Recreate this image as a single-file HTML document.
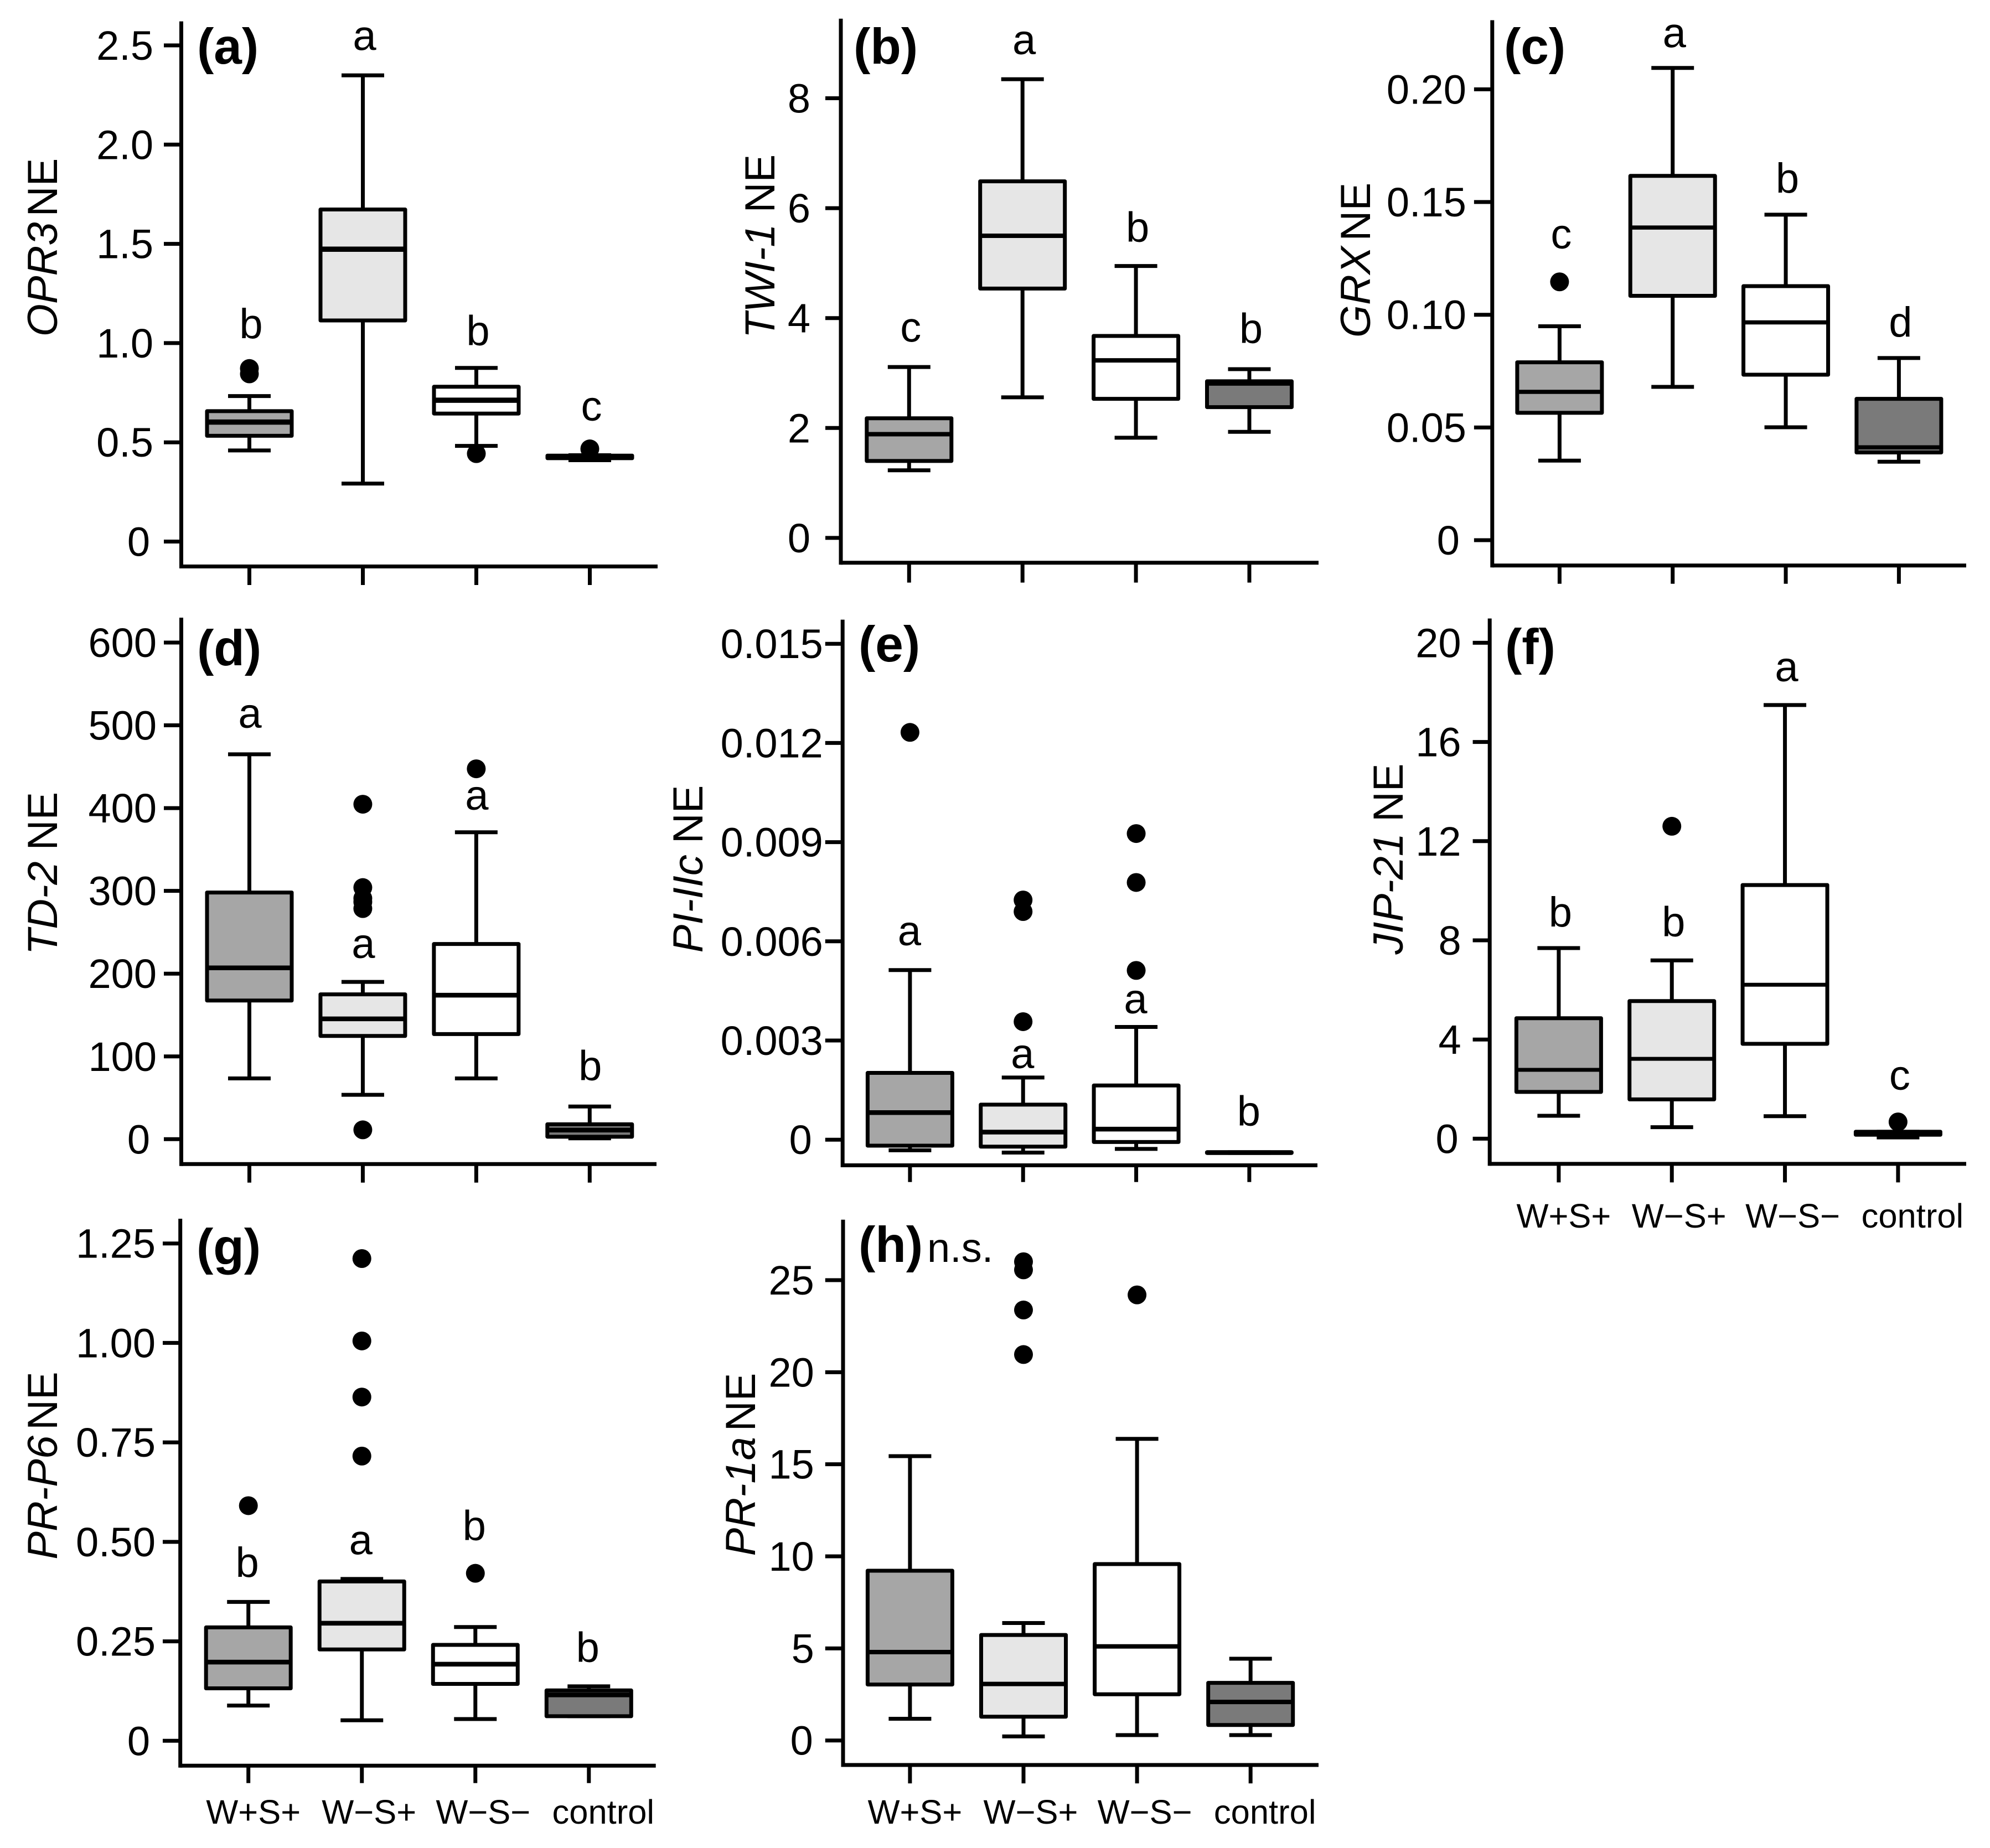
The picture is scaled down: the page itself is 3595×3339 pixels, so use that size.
<!DOCTYPE html>
<html lang="en">
<head>
<meta charset="utf-8">
<title>Normalized expression box plots</title>
<style>
  html, body { margin: 0; padding: 0; background: #fff; }
  svg { display: block; font-family: "Liberation Sans", sans-serif; fill: #000; }
  .panel-label { font-weight: bold; font-size: 91px; }
  .y-title { font-size: 76px; }
  .y-title .gene { font-style: italic; }
</style>
</head>
<body>
<svg id="chart" xmlns="http://www.w3.org/2000/svg" width="3595" height="3339" viewBox="0 0 3595 3339">
  <rect x="0" y="0" width="3595" height="3339" fill="#ffffff"/>

  <g id="panel-a">
    <text class="panel-label" x="356" y="115">(a)</text>
    <text class="y-title" text-anchor="middle" transform="translate(103 447) rotate(-90)"><tspan class="gene">OPR3</tspan><tspan dx="10">NE</tspan></text>
  </g>
  <g id="panel-b">
    <text class="panel-label" x="1542" y="115">(b)</text>
    <text class="y-title" text-anchor="middle" transform="translate(1399 445) rotate(-90)"><tspan class="gene">TWI-1</tspan><tspan dx="20">NE</tspan></text>
  </g>
  <g id="panel-c">
    <text class="panel-label" x="2717" y="115">(c)</text>
    <text class="y-title" text-anchor="middle" transform="translate(2475 470) rotate(-90)"><tspan class="gene">GRX</tspan><tspan dx="10">NE</tspan></text>
  </g>
  <g id="panel-d">
    <text class="panel-label" x="356" y="1202">(d)</text>
    <text class="y-title" text-anchor="middle" transform="translate(103 1578) rotate(-90)"><tspan class="gene">TD-2</tspan><tspan dx="20">NE</tspan></text>
  </g>
  <g id="panel-e">
    <text class="panel-label" x="1551" y="1195">(e)</text>
    <text class="y-title" text-anchor="middle" transform="translate(1269 1570) rotate(-90)"><tspan class="gene">PI-IIc</tspan><tspan dx="20">NE</tspan></text>
  </g>
  <g id="panel-f">
    <text class="panel-label" x="2719" y="1200">(f)</text>
    <text class="y-title" text-anchor="middle" transform="translate(2534 1552) rotate(-90)"><tspan class="gene">JIP-21</tspan><tspan dx="20">NE</tspan></text>
  </g>
  <g id="panel-g">
    <text class="panel-label" x="355" y="2284">(g)</text>
    <text class="y-title" text-anchor="middle" transform="translate(103 2648) rotate(-90)"><tspan class="gene">PR-P6</tspan><tspan dx="10">NE</tspan></text>
  </g>
  <g id="panel-h">
    <text class="panel-label" x="1551" y="2280">(h)</text>
    <text x="1675" y="2280" font-size="74">n.s.</text>
    <text class="y-title" text-anchor="middle" transform="translate(1364 2646) rotate(-90)"><tspan class="gene">PR-1a</tspan><tspan dx="10">NE</tspan></text>
  </g>
</svg>

<script>
// ---- Shared categories ----
const categories = ['W+S+', 'W\u2212S+', 'W\u2212S\u2212', 'control'];
const boxFills = ['#a6a6a6', '#e6e6e6', '#ffffff', '#7a7a7a'];

// ---- Panel (a) OPR3 ----
const aTicks = [0, 0.5, 1.0, 1.5, 2.0, 2.5];
const aTickLabels = ['0', '0.5', '1.0', '1.5', '2.0', '2.5'];
const aLow = [0.459, 0.292, 0.482, 0.41];
const aQ1 = [0.533, 1.114, 0.645, 0.42];
const aMedian = [0.602, 1.473, 0.712, 0.428];
const aQ3 = [0.657, 1.673, 0.78, 0.433];
const aHigh = [0.733, 2.349, 0.875, 0.435];
const aOutliers = [[0.845, 0.872], [], [0.443], [0.467]];
const aLetters = ['b', 'a', 'b', 'c'];
const aLetterLevels = [1.025, 2.476, 0.99, 0.61];

// ---- Panel (b) TWI-1 ----
const bTicks = [0, 2, 4, 6, 8];
const bTickLabels = ['0', '2', '4', '6', '8'];
const bLow = [1.23, 2.558, 1.823, 1.93];
const bQ1 = [1.40, 4.537, 2.53, 2.38];
const bMedian = [1.887, 5.498, 3.23, 2.81];
const bQ3 = [2.177, 6.488, 3.675, 2.85];
const bHigh = [3.11, 8.346, 4.947, 3.07];
const bOutliers = [[], [], [], []];
const bLetters = ['c', 'a', 'b', 'b'];
const bLetterLevels = [3.57, 8.8, 5.39, 3.55];

// ---- Panel (c) GRX ----
const cTicks = [0, 0.05, 0.10, 0.15, 0.20];
const cTickLabels = ['0', '0.05', '0.10', '0.15', '0.20'];
const cLow = [0.0353, 0.068, 0.0501, 0.0348];
const cQ1 = [0.0565, 0.1084, 0.0734, 0.0389];
const cMedian = [0.0658, 0.1387, 0.0966, 0.0412];
const cQ3 = [0.0789, 0.1616, 0.1127, 0.0627];
const cHigh = [0.0949, 0.2095, 0.1444, 0.0808];
const cOutliers = [[0.1146], [], [], []];
const cLetters = ['c', 'a', 'b', 'd'];
const cLetterLevels = [0.1294, 0.2186, 0.1542, 0.0904];

// ---- Panel (d) TD-2 ----
const dTicks = [0, 100, 200, 300, 400, 500, 600];
const dTickLabels = ['0', '100', '200', '300', '400', '500', '600'];
const dLow = [73.4, 53.6, 73.4, 1];
const dQ1 = [167.5, 124.7, 127, 3];
const dMedian = [207, 145.4, 174, 11];
const dQ3 = [298, 175, 235.8, 18];
const dHigh = [465, 190, 370.8, 39.5];
const dOutliers = [[], [404.7, 304, 291, 286.6, 278.6, 11.3], [447.5], []];
const dLetters = ['a', 'a', 'a', 'b'];
const dLetterLevels = [497, 219, 398, 71.5];

// ---- Panel (e) PI-IIc ----
const eTicks = [0, 0.003, 0.006, 0.009, 0.012, 0.015];
const eTickLabels = ['0', '0.003', '0.006', '0.009', '0.012', '0.015'];
const eLow = [-0.00032, -0.00039, -0.00028, -0.0004];
const eQ1 = [-0.00018, -0.00021, -0.00007, -0.0004];
const eMedian = [0.00082, 0.00023, 0.00032, -0.00039];
const eQ3 = [0.00202, 0.00106, 0.00164, -0.00038];
const eHigh = [0.00513, 0.00188, 0.00341, -0.00038];
const eOutliers = [[0.01232], [0.00357, 0.0069, 0.00725], [0.00512, 0.00778, 0.00926], []];
const eLetters = ['a', 'a', 'a', 'b'];
const eLetterLevels = [0.00588, 0.00216, 0.00382, 0.00043];

// ---- Panel (f) JIP-21 ----
const fTicks = [0, 4, 8, 12, 16, 20];
const fTickLabels = ['0', '4', '8', '12', '16', '20'];
const fLow = [0.925, 0.463, 0.907, 0.05];
const fQ1 = [1.886, 1.584, 3.826, 0.16];
const fMedian = [2.776, 3.22, 6.21, 0.21];
const fQ3 = [4.858, 5.55, 10.23, 0.28];
const fHigh = [7.687, 7.19, 17.49, 0.28];
const fOutliers = [[], [12.6], [], [0.676]];
const fLetters = ['b', 'b', 'a', 'c'];
const fLetterLevels = [8.56, 8.17, 18.45, 1.975];

// ---- Panel (g) PR-P6 ----
const gTicks = [0, 0.25, 0.50, 0.75, 1.00, 1.25];
const gTickLabels = ['0', '0.25', '0.50', '0.75', '1.00', '1.25'];
const gLow = [0.0885, 0.0515, 0.0546, 0.0618];
const gQ1 = [0.1318, 0.2296, 0.143, 0.0618];
const gMedian = [0.1977, 0.2955, 0.1925, 0.1153];
const gQ3 = [0.285, 0.4005, 0.241, 0.1266];
const gHigh = [0.349, 0.4067, 0.286, 0.137];
const gOutliers = [[0.591], [1.212, 1.005, 0.864, 0.7156], [0.421], []];
const gLetters = ['b', 'a', 'b', 'b'];
const gLetterLevels = [0.412, 0.4685, 0.5045, 0.1987];

// ---- Panel (h) PR-1a ----
const hTicks = [0, 5, 10, 15, 20, 25];
const hTickLabels = ['0', '5', '10', '15', '20', '25'];
const hLow = [1.18, 0.22, 0.29, 0.29];
const hQ1 = [3.04, 1.29, 2.51, 0.84];
const hMedian = [4.8, 3.07, 5.11, 2.09];
const hQ3 = [9.22, 5.73, 9.58, 3.13];
const hHigh = [15.44, 6.38, 16.38, 4.44];
const hOutliers = [[], [26, 25.56, 23.38, 20.96], [24.2], []];
const hLetters = ['', '', '', ''];
const hLetterLevels = [0, 0, 0, 0];

// ---- Rendering ----
const NS = 'http://www.w3.org/2000/svg';
const STROKE = 7;
const BOX_WIDTH = 153;
const CAP_WIDTH = 77;
const OUTLIER_R = 17;
const catNudge = [9, 13, 14, 26];

function mk(tag, parent, geometry) {
  const el = document.createElementNS(NS, tag);
  for (const k in geometry) el.setAttribute(k, geometry[k]);
  parent.appendChild(el);
  return el;
}

function drawPanel(p) {
  const g = document.getElementById('panel-' + p.id);
  const xOf = i => p.x0 + i * (p.x3 - p.x0) / 3;
  const n = p.ticks.length - 1;
  const yOf = v => p.yZero + (v - p.ticks[0]) / (p.ticks[n] - p.ticks[0]) * (p.yTop - p.yZero);

  // axes
  const yAxis = mk('line', g, { x1: p.axisX, x2: p.axisX, y1: p.top, y2: p.bottom + STROKE / 2, stroke: '#000', 'stroke-width': STROKE });
  
  
  const xAxis = mk('line', g, { x1: p.axisX, x2: p.right, y1: p.bottom, y2: p.bottom, stroke: '#000', 'stroke-width': STROKE });
  
  

  // y ticks
  p.ticks.forEach((t, i) => {
    const y = yOf(t);
    const tick = mk('line', g, { x1: p.tickLeft, x2: p.axisX, y1: y, y2: y, stroke: '#000', 'stroke-width': STROKE });
    
    
    const shift = t === 0 ? p.zeroShift : 0;
    const label = mk('text', g, { x: p.tickLeft - p.labelGap - shift, y: y + 26, 'text-anchor': 'end', 'font-size': 74 });
    
    
    label.textContent = p.tickLabels[i];
  });

  // groups
  categories.forEach((cat, i) => {
    const cx = xOf(i);
    const tick = mk('line', g, { x1: cx, x2: cx, y1: p.bottom, y2: p.tickBottom, stroke: '#000', 'stroke-width': STROKE });
    
    

    if (p.catBaseline) {
      const label = mk('text', g, { x: cx + catNudge[i], y: p.catBaseline, 'text-anchor': 'middle', 'font-size': 61.5 });
      
      
      label.textContent = cat;
    }

    const whisker = mk('line', g, { x1: cx, x2: cx, y1: yOf(p.high[i]), y2: yOf(p.low[i]), stroke: '#000', 'stroke-width': STROKE });
    
    
    const capHi = mk('line', g, { x1: cx - CAP_WIDTH / 2, x2: cx + CAP_WIDTH / 2, y1: yOf(p.high[i]), y2: yOf(p.high[i]), stroke: '#000', 'stroke-width': STROKE });
    
    
    const capLo = mk('line', g, { x1: cx - CAP_WIDTH / 2, x2: cx + CAP_WIDTH / 2, y1: yOf(p.low[i]), y2: yOf(p.low[i]), stroke: '#000', 'stroke-width': STROKE });
    
    

    const box = mk('rect', g, { x: cx - BOX_WIDTH / 2, y: yOf(p.q3[i]), width: BOX_WIDTH, height: yOf(p.q1[i]) - yOf(p.q3[i]), fill: boxFills[i], stroke: '#000', 'stroke-width': STROKE, 'stroke-linejoin': 'round' });
    
    

    const med = mk('line', g, { x1: cx - BOX_WIDTH / 2, x2: cx + BOX_WIDTH / 2, y1: yOf(p.median[i]), y2: yOf(p.median[i]), stroke: '#000', 'stroke-width': p.medianWidth });
    
    

    p.outliers[i].forEach(v => {
      const dot = mk('circle', g, { cx: cx, cy: yOf(v), r: OUTLIER_R, fill: '#000' });
      
      
    });

    if (p.letters[i]) {
      const letter = mk('text', g, { x: cx + p.letterShift, y: yOf(p.letterLevels[i]), 'text-anchor': 'middle', 'font-size': 76 });
      
      
      letter.textContent = p.letters[i];
    }
  });
}

const panels = [
  { id: 'a', axisX: 327.5, top: 38.6, bottom: 1023.5, right: 1188, tickLeft: 296, x0: 450.5, x3: 1065.5, tickBottom: 1057, yZero: 978.5, yTop: 82, labelGap: 19, zeroShift: 6, medianWidth: 9.5, letterShift: 3,
    ticks: aTicks, tickLabels: aTickLabels, low: aLow, q1: aQ1, median: aMedian, q3: aQ3, high: aHigh, outliers: aOutliers, letters: aLetters, letterLevels: aLetterLevels },
  { id: 'b', axisX: 1519, top: 33.7, bottom: 1016.8, right: 2382, tickLeft: 1491, x0: 1642.3, x3: 2257, tickBottom: 1052.6, yZero: 971.9, yTop: 177.5, labelGap: 27, zeroShift: 0, medianWidth: 8, letterShift: 3,
    ticks: bTicks, tickLabels: bTickLabels, low: bLow, q1: bQ1, median: bMedian, q3: bQ3, high: bHigh, outliers: bOutliers, letters: bLetters, letterLevels: bLetterLevels },
  { id: 'c', axisX: 2695.8, top: 36.5, bottom: 1021.7, right: 3552, tickLeft: 2662.9, x0: 2817.4, x3: 3430.4, tickBottom: 1054.7, yZero: 976, yTop: 161.4, labelGap: 14, zeroShift: 12, medianWidth: 7.5, letterShift: 3,
    ticks: cTicks, tickLabels: cTickLabels, low: cLow, q1: cQ1, median: cMedian, q3: cQ3, high: cHigh, outliers: cOutliers, letters: cLetters, letterLevels: cLetterLevels },
  { id: 'd', axisX: 327.5, top: 1116, bottom: 2103.3, right: 1186, tickLeft: 296, x0: 450.5, x3: 1065.3, tickBottom: 2136.7, yZero: 2058.3, yTop: 1161, labelGap: 13, zeroShift: 12, medianWidth: 8.5, letterShift: 1,
    ticks: dTicks, tickLabels: dTickLabels, low: dLow, q1: dQ1, median: dMedian, q3: dQ3, high: dHigh, outliers: dOutliers, letters: dLetters, letterLevels: dLetterLevels },
  { id: 'e', axisX: 1522.2, top: 1119.6, bottom: 2105.5, right: 2380, tickLeft: 1490.8, x0: 1643.9, x3: 2256.9, tickBottom: 2135.7, yZero: 2059.2, yTop: 1163.2, labelGap: 4, zeroShift: 20, medianWidth: 8.5, letterShift: -1,
    ticks: eTicks, tickLabels: eTickLabels, low: eLow, q1: eQ1, median: eMedian, q3: eQ3, high: eHigh, outliers: eOutliers, letters: eLetters, letterLevels: eLetterLevels },
  { id: 'f', axisX: 2691.2, top: 1117.5, bottom: 2102.9, right: 3552, tickLeft: 2660.6, x0: 2815.9, x3: 3428.9, tickBottom: 2136.4, yZero: 2057.4, yTop: 1161.4, labelGap: 21, zeroShift: 5, medianWidth: 7, catBaseline: 2218, letterShift: 3,
    ticks: fTicks, tickLabels: fTickLabels, low: fLow, q1: fQ1, median: fMedian, q3: fQ3, high: fHigh, outliers: fOutliers, letters: fLetters, letterLevels: fLetterLevels },
  { id: 'g', axisX: 325.7, top: 2202, bottom: 3190.3, right: 1184.7, tickLeft: 294, x0: 448.7, x3: 1063.8, tickBottom: 3221.7, yZero: 3145.3, yTop: 2246.7, labelGap: 13, zeroShift: 10, medianWidth: 8.5, catBaseline: 3295, letterShift: -2,
    ticks: gTicks, tickLabels: gTickLabels, low: gLow, q1: gQ1, median: gMedian, q3: gQ3, high: gHigh, outliers: gOutliers, letters: gLetters, letterLevels: gLetterLevels },
  { id: 'h', axisX: 1523, top: 2203.7, bottom: 3189, right: 2382, tickLeft: 1490.8, x0: 1643.9, x3: 2259.2, tickBottom: 3222.3, yZero: 3144.7, yTop: 2313, labelGap: 20, zeroShift: 2, medianWidth: 8, catBaseline: 3295, letterShift: 0,
    ticks: hTicks, tickLabels: hTickLabels, low: hLow, q1: hQ1, median: hMedian, q3: hQ3, high: hHigh, outliers: hOutliers, letters: hLetters, letterLevels: hLetterLevels }
];

panels.forEach(drawPanel);
</script>
</body>
</html>
